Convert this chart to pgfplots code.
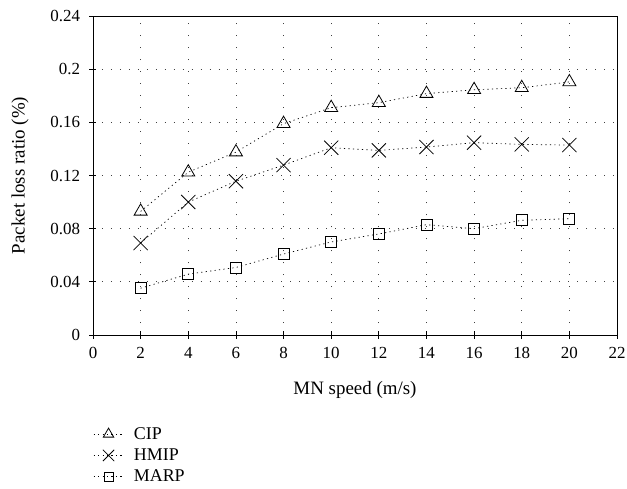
\documentclass[border=0pt]{standalone}
\usepackage{pgfplots}
\pgfplotsset{compat=1.18}
\usepackage{fontspec}
\setmainfont{Liberation Serif}
\begin{document}
\begin{tikzpicture}[x=1bp,y=1bp]
\useasboundingbox (-93,-154) rectangle (534,335);
\begin{axis}[
  at={(0,0)}, anchor=south west,
  scale only axis,
  width=524bp, height=319bp,
  xmin=0, xmax=22, ymin=0, ymax=0.24,
  xtick={0,2,...,22},
  ytick={0,0.04,0.08,0.12,0.16,0.2,0.24},
  yticklabels={0,0.04,0.08,0.12,0.16,0.2,0.24},
  xtick pos=left, ytick pos=left,
  tick align=center,
  major tick length=7bp,
  xmajorgrids, ymajorgrids,
  x grid style={black!75, line width=0.7pt, dash pattern=on 1pt off 11pt},
  y grid style={black!75, line width=0.7pt, dash pattern=on 1pt off 8pt},
  axis line style={line width=0.8pt},
  every tick/.style={black, line width=0.8pt},
  tick label style={font=\fontsize{17}{19}\selectfont},
  yticklabel style={xshift=-6bp},
  xticklabel style={yshift=-5bp},
  label style={font=\fontsize{19}{21}\selectfont},
  /pgf/number format/assume math mode=true,
  xlabel={MN speed (m/s)},
  ylabel={Packet loss ratio (\%)},
  xlabel style={at={(axis description cs:0.5,-0.172)}, anchor=center},
  ylabel style={at={(axis description cs:-0.139,0.5)}, anchor=center},
  legend style={draw=none, fill=none, at={(axis description cs:0,-0.286)}, anchor=north west,
    inner sep=0pt, font=\fontsize{18}{18}\selectfont, row sep=6bp, cells={anchor=west},
    nodes={inner sep=1bp}, /tikz/every odd column/.append style={column sep=9bp}},
  legend cell align=left,
  legend image code/.code={\draw[mark repeat=2,mark phase=2,#1,every mark/.append style={scale=0.8}] plot coordinates {(0bp,0bp) (15bp,0bp) (30bp,0bp)};},
]
\addplot[black, line width=0.7pt, dash pattern=on 1.2pt off 3.3pt, mark=triangle, mark size=7.5bp, mark options={solid, line width=0.8pt}]
  coordinates {(2,0.093)(4,0.1225)(6,0.1376)(8,0.159)(10,0.171)(12,0.1748)(14,0.1816)(16,0.1845)(18,0.186)(20,0.1904)};
\addlegendentry{CIP}
\addplot[black, line width=0.7pt, dash pattern=on 1.2pt off 3.3pt, mark=x, mark size=10bp, mark options={solid, line width=0.8pt}]
  coordinates {(2,0.0692)(4,0.100)(6,0.1157)(8,0.1278)(10,0.1409)(12,0.1389)(14,0.1414)(16,0.1447)(18,0.1434)(20,0.1429)};
\addlegendentry{HMIP}
\addplot[black, line width=0.7pt, dash pattern=on 1.2pt off 3.3pt, mark=square, mark size=5.5bp, mark options={solid, line width=0.8pt}]
  coordinates {(2,0.0352)(4,0.0458)(6,0.0508)(8,0.0609)(10,0.070)(12,0.076)(14,0.083)(16,0.080)(18,0.0863)(20,0.0875)};
\addlegendentry{MARP}
\end{axis}
\end{tikzpicture}
\end{document}
